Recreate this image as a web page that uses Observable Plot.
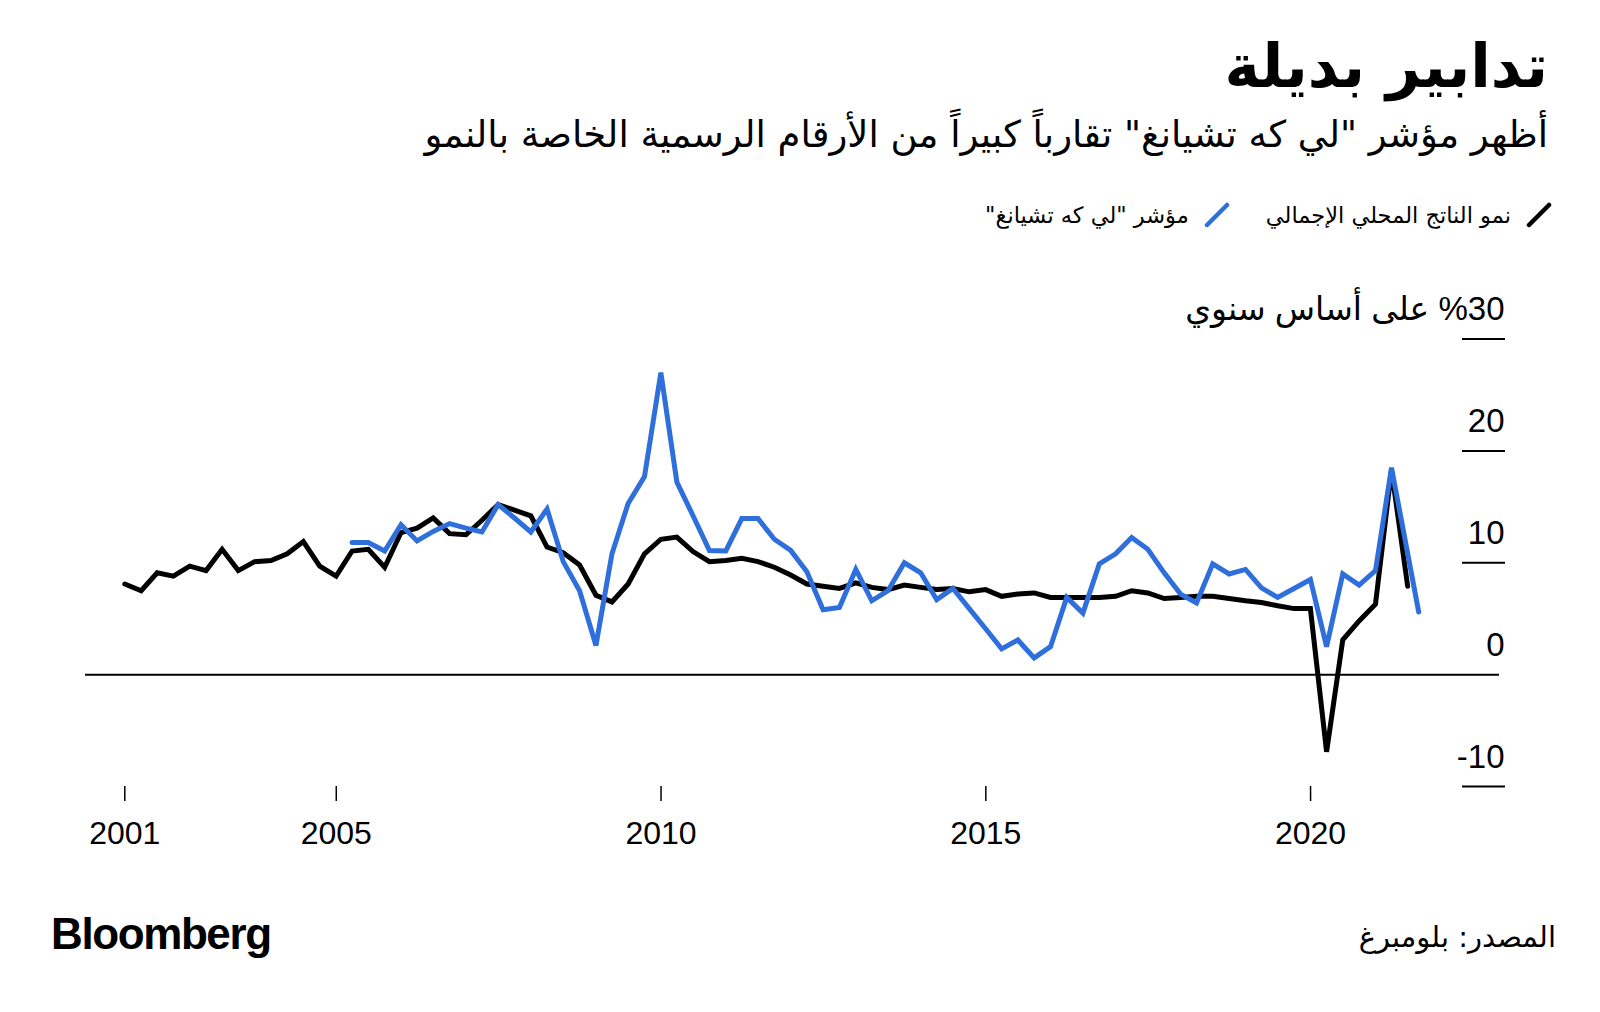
<!DOCTYPE html>
<html>
<head>
<meta charset="utf-8">
<script src="https://cdn.jsdelivr.net/npm/d3@7"></script>
<script src="https://cdn.jsdelivr.net/npm/@observablehq/plot@0.6"></script>
<style>
  html, body { margin: 0; padding: 0; background: #fff; }
  body { width: 1600px; height: 1012px; position: relative; overflow: hidden; font-family: "DejaVu Sans", sans-serif; color: #000; }
  #title { position: absolute; right: 52px; top: 26px; direction: rtl; font-weight: bold; font-size: 60px; line-height: 80px; white-space: nowrap; }
  #subtitle { position: absolute; right: 52px; top: 106px; direction: rtl; font-size: 37px; line-height: 58px; white-space: nowrap; }
  #legend { position: absolute; right: 48px; top: 202px; direction: rtl; display: flex; align-items: center; font-size: 22.5px; white-space: nowrap; }
  #legend .item { display: flex; align-items: center; margin-left: 36px; }
  #legend svg { margin-left: 15px; }
  #chart { position: absolute; left: 0; top: 260px; }
  #logo { position: absolute; left: 51px; top: 904px; font-family: "Liberation Sans", Arial, sans-serif; font-weight: bold; font-size: 44px; letter-spacing: -1.4px; line-height: 60px; }
  #source { position: absolute; right: 44px; top: 915px; direction: rtl; font-size: 29px; line-height: 44px; white-space: nowrap; }
</style>
</head>
<body>
<div id="title">تدابير بديلة</div>
<div id="subtitle">أظهر مؤشر "لي كه تشيانغ" تقارباً كبيراً من الأرقام الرسمية الخاصة بالنمو</div>
<div id="legend"></div>
<div id="chart"></div>
<div id="logo">Bloomberg</div>
<div id="source">المصدر: بلومبرغ</div>
<script>
// ---- Data (quarterly, % year on year) ----
const seriesNames = ["نمو الناتج المحلي الإجمالي", "مؤشر \"لي كه تشيانغ\""];
const seriesColors = ["#000000", "#2f6fdc"];

// GDP growth, from 2001 Q3 to 2021 Q2
const gdpStart = [2001, 3];
const gdpValues = [
  8.1, 7.5,
  9.1, 8.8, 9.7, 9.3,
  11.2, 9.3, 10.1, 10.2,
  10.8, 11.9, 9.7, 8.8,
  11.05, 11.2, 9.6, 12.7,
  13.1, 14.0, 12.6, 12.5,
  13.8, 15.2, 14.7, 14.2,
  11.4, 10.9, 9.8, 7.1,
  6.5, 8.1, 10.8, 12.1,
  12.3, 11.0, 10.1, 10.2,
  10.4, 10.1, 9.6, 8.9,
  8.1, 7.9, 7.7, 8.2,
  7.8, 7.6, 8.0, 7.8,
  7.6, 7.7, 7.4, 7.6,
  7.0, 7.2, 7.3, 6.9,
  6.9, 6.9, 6.9, 7.0,
  7.5, 7.3, 6.8, 6.9,
  7.0, 7.0, 6.8, 6.6,
  6.45, 6.15, 5.9, 5.9,
  -6.9, 3.1, 4.8, 6.3,
  18.3, 7.9
];

// Li Keqiang index, from 2005 Q1 to 2021 Q1, then latest reading
const lkiStart = [2005, 1];
const lkiValues = [
  11.8, 11.8, 11.05, 13.4,
  11.95, 12.8, 13.5, 13.1,
  12.75, 15.2, 14.0, 12.75,
  14.8, 10.1, 7.5, 2.6,
  10.8, 15.3, 17.7, 27.0,
  17.2, 14.2, 11.1, 11.05,
  13.95, 13.95, 12.1, 11.1,
  9.2, 5.8, 6.0, 9.4,
  6.6, 7.5, 10.0, 9.1,
  6.7, 7.7, 5.9, 4.1,
  2.3, 3.1, 1.5, 2.5,
  6.9, 5.5, 9.9, 10.8,
  12.25, 11.2, 9.1, 7.2,
  6.4, 9.9, 9.0, 9.4,
  7.75, 6.9, 7.7, 8.5,
  2.5, 9.0, 8.0, 9.3,
  18.5
];
const lkiLatestDate = "2021-08-31";
const lkiLatestValue = 5.6;

const xTickDates = ["2001-09-30", "2005-01-01", "2010-01-01", "2015-01-01", "2020-01-01"];
const xTickLabels = ["2001", "2005", "2010", "2015", "2020"];
const yTicks = [30, 20, 10, 0, -10];
const yUnit = "%30 على أساس سنوي";

// ---- Build tables ----
function quarterEnd(y, q) { return new Date(Date.UTC(y, q * 3, 0)); }
function quarterly(start, values) {
  let [y, q] = start;
  return values.map(v => {
    const row = {date: quarterEnd(y, q), value: v};
    q++; if (q > 4) { q = 1; y++; }
    return row;
  });
}
const gdp = quarterly(gdpStart, gdpValues);
const lki = quarterly(lkiStart, lkiValues);
lki.push({date: new Date(lkiLatestDate + "T00:00:00Z"), value: lkiLatestValue});

const tickDates = xTickDates.map(s => new Date(s + "T00:00:00Z"));
const tickLabelOf = new Map(tickDates.map((d, i) => [+d, xTickLabels[i]]));

// ---- Legend ----
const legend = document.getElementById("legend");
seriesNames.forEach((name, i) => {
  const item = document.createElement("div");
  item.className = "item";
  item.innerHTML = `<svg width="26" height="26" viewBox="0 0 26 26"><line x1="3" y1="23" x2="23" y2="3" stroke="${seriesColors[i]}" stroke-width="4.5" stroke-linecap="round"/></svg><span>${name}</span>`;
  legend.appendChild(item);
});

// ---- Chart ----
const W = 1600, H = 610;
const mL = 85, mR = 95, mT = 78.5, mB = 84;
const tickLen = 43;
const RLE = "\u202B", PDF = "\u202C";

const chart = Plot.plot({
  width: W,
  height: H,
  marginLeft: mL,
  marginRight: mR,
  marginTop: mT,
  marginBottom: mB,
  style: {fontFamily: "'Liberation Sans', 'DejaVu Sans', sans-serif", background: "#fff", color: "#000"},
  x: {type: "utc", domain: [new Date(Date.UTC(2001, 1, 21)), new Date(Date.UTC(2023, 0, 1))]},
  y: {domain: [-10, 30], axis: null},
  marks: [
    Plot.tickY(yTicks.filter(d => d !== 0), {y: d => d, insetLeft: (W - mL - mR) - tickLen, stroke: "#000", strokeWidth: 2}),
    Plot.text(yTicks, {
      y: d => d,
      text: d => d === 30 ? RLE + yUnit + PDF : String(d),
      frameAnchor: "right", textAnchor: "end", lineAnchor: "bottom",
      dx: -1, dy: -19, fontSize: 33, fill: "#000"
    }),
    Plot.ruleY([0], {stroke: "#000", strokeWidth: 2, insetRight: 6}),
    Plot.axisX({
      ticks: tickDates,
      tickFormat: d => tickLabelOf.get(+d),
      tickSize: 15, tickPadding: 20, fontSize: 32, strokeWidth: 1.5, stroke: "#000", fill: "#000"
    }),
    Plot.lineY(gdp, {x: "date", y: "value", stroke: seriesColors[0], strokeWidth: 5, strokeLinejoin: "miter", strokeMiterlimit: 3}),
    Plot.lineY(lki, {x: "date", y: "value", stroke: seriesColors[1], strokeWidth: 5, strokeLinejoin: "miter", strokeMiterlimit: 3})
  ]
});
document.getElementById("chart").appendChild(chart);
</script>
</body>
</html>
